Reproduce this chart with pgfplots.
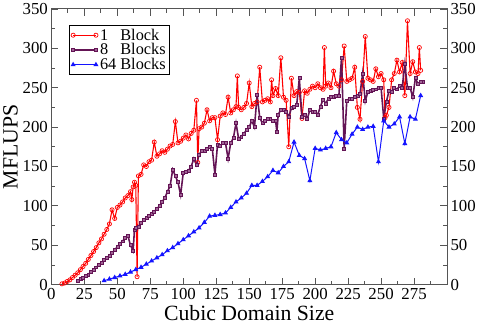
\documentclass[border=0pt]{standalone}
\usepackage{pgfplots}
\pgfplotsset{compat=1.18}
\usepackage{fontspec}
\setmainfont{Liberation Serif}
\definecolor{myred}{RGB}{255,0,0}
\definecolor{mypurple}{RGB}{100,20,85}
\definecolor{mypurplefill}{RGB}{160,100,150}
\definecolor{myblue}{RGB}{20,20,255}
\definecolor{frame}{RGB}{85,85,85}
\begin{document}
\begin{tikzpicture}
\begin{axis}[
 scale only axis, width=399bp, height=278bp,
 xmin=0, xmax=300, ymin=0, ymax=350,
 xtick={0,25,...,275}, minor xtick={12.5,37.5,...,287.5},
 ytick={0,50,...,350}, minor ytick={25,75,...,325},
 tick align=inside, major tick length=7bp, minor tick length=4bp,
 tick pos=both,
 axis line style={frame, line width=1bp},
 every tick/.style={frame, line width=0.8bp},
 tick label style={font=\fontsize{17}{17}\selectfont},
 /pgf/number format/assume math mode=true,
 xlabel={Cubic Domain Size}, ylabel={MFLUPS},
 label style={font=\fontsize{22}{22}\selectfont},
 xlabel style={yshift=1bp},
 ylabel style={yshift=-2bp},
 legend style={at={(0.045,0.942)}, anchor=north west, draw=black, line width=0.8bp,
   font=\fontsize{16.5}{17}\selectfont, inner sep=1.5bp, row sep=-2bp},
 legend cell align=left,
 legend image code/.code={\draw[#1] plot coordinates {(0bp,0bp) (23bp,0bp)};},
]
\addplot[myred, line width=1.1bp, mark=o, mark size=2.1bp, mark options={line width=0.7bp}] coordinates {
(8,1)(10,2)(12,4)(14,6)(16,9)(18,12)(20,15)(22,19)(24,23)(26,27)(28,32)(30,37)(32,42)(34,47)(36,53)(38,58)(40,64)(42,70)(44,77)(46,95)(48,84)(50,98)(52,101)(54,105)(56,110)(58,113)(60,118)(61,108)(62,124)(63,130)(64,126)(65,10)(66,138)(68,140)(70,152)(72,150)(74,156)(76,158)(78,181)(80,163)(82,166)(84,170)(86,168)(88,172)(90,176)(92,178)(94,207)(96,180)(98,182)(100,186)(102,190)(104,185)(106,192)(108,196)(110,234)(111,155)(112,198)(114,200)(116,205)(118,222)(120,208)(122,212)(124,212)(126,184)(128,214)(130,218)(132,216)(134,238)(136,218)(138,222)(140,226)(141,265)(142,225)(144,222)(146,225)(148,230)(150,256)(152,226)(154,230)(156,232)(158,276)(160,232)(162,234)(164,236)(166,232)(167,260)(168,240)(170,249)(172,240)(174,288)(176,238)(178,234)(180,175)(182,262)(184,240)(186,245)(188,244)(190,211)(192,246)(194,243)(196,248)(198,252)(200,250)(202,255)(204,250)(206,248)(207,301)(208,252)(210,256)(212,250)(214,271)(216,255)(218,252)(220,260)(222,303)(224,258)(226,260)(228,262)(230,276)(232,225)(234,210)(236,258)(238,315)(240,262)(242,260)(244,258)(246,274)(248,264)(250,268)(252,260)(253,212)(254,215)(256,225)(258,260)(260,268)(262,285)(264,270)(266,282)(268,240)(270,335)(272,268)(274,283)(276,270)(278,268)(279,301)(280,272)
};
\addlegendentry{\makebox[1em][l]{1} Block}
\addplot[mypurple, line width=1.6bp, mark=square*, mark size=1.5bp, mark options={fill=mypurplefill, draw=mypurple, line width=0.6bp}] coordinates {
(20,5)(22,7)(24,9)(26,11)(28,13)(30,16)(32,19)(34,22)(36,25)(38,28)(40,31)(42,34)(44,37)(46,40)(48,44)(50,48)(52,52)(54,55)(56,60)(58,62)(60,50)(62,43)(63,70)(64,72)(66,74)(68,78)(70,82)(72,85)(74,88)(76,90)(78,93)(80,96)(82,100)(84,105)(86,110)(88,118)(90,125)(92,146)(94,138)(96,130)(98,114)(100,142)(102,143)(104,145)(106,150)(108,160)(110,152)(112,165)(114,170)(116,170)(118,173)(120,175)(122,173)(124,140)(126,178)(128,176)(130,180)(132,180)(134,160)(136,180)(138,186)(140,205)(142,185)(144,188)(146,192)(148,196)(150,200)(152,208)(154,200)(156,241)(158,212)(160,205)(162,208)(164,210)(166,210)(168,208)(170,208)(171,194)(172,216)(174,222)(176,222)(178,220)(180,213)(182,224)(184,226)(186,228)(188,262)(190,213)(192,215)(194,210)(196,222)(198,220)(200,219)(202,216)(204,226)(206,235)(208,230)(210,236)(212,238)(214,238)(216,240)(218,240)(220,288)(222,173)(224,234)(226,236)(228,236)(230,238)(232,240)(234,242)(236,268)(238,233)(240,245)(242,246)(244,247)(246,248)(248,250)(250,250)(252,211)(254,232)(256,246)(258,245)(260,250)(262,248)(264,252)(266,250)(268,280)(270,250)(272,250)(274,238)(276,262)(278,255)(280,258)(282,258)
};
\addlegendentry{\makebox[1em][l]{8} Blocks}
\addplot[myblue, line width=1bp, mark=triangle*, mark size=2bp] coordinates {
(40,5)(44,7)(48,9)(52,11)(56,13)(60,16)(64,19)(68,22)(72,26)(76,30)(80,34)(84,38)(88,43)(92,47)(96,52)(100,57)(104,62)(108,67)(112,72)(116,79)(120,87)(124,88)(128,89)(132,91)(136,98)(140,105)(144,110)(148,116)(152,126)(156,126)(160,131)(164,137)(168,145)(172,142)(176,150)(180,156)(184,181)(188,164)(192,160)(196,132)(200,173)(204,171)(208,173)(212,175)(216,193)(220,184)(224,180)(228,191)(232,200)(236,197)(240,200)(244,201)(248,156)(252,208)(256,200)(260,204)(264,213)(268,179)(272,213)(276,210)(280,240)
};
\addlegendentry{64 Blocks}
\end{axis}
\begin{axis}[
 scale only axis, width=399bp, height=278bp,
 xmin=0, xmax=300, ymin=0, ymax=350,
 axis x line=none, axis y line*=right,
 axis line style={draw=none},
 ytick={0,50,...,350}, major tick length=0pt, ytick style={draw=none},
 tick label style={font=\fontsize{17}{17}\selectfont},
 /pgf/number format/assume math mode=true,
]
\end{axis}
\end{tikzpicture}
\end{document}
